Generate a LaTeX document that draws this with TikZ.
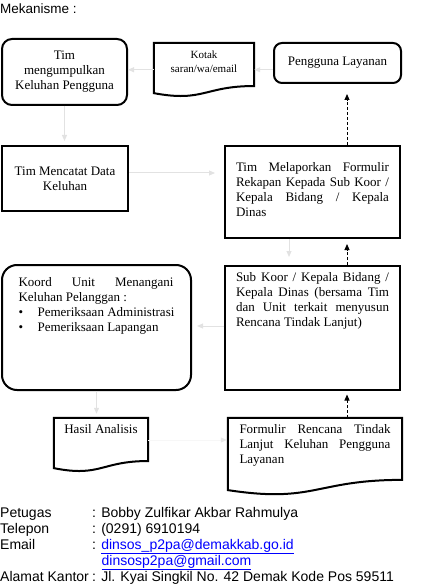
\documentclass[tikz,border=0pt]{standalone}
\usepackage{fontspec}
\setmainfont{Liberation Serif}
\newfontfamily\arialfont{Liberation Sans}
\usepackage{xcolor}
\usetikzlibrary{arrows.meta,calc}
\definecolor{faint}{HTML}{E2E2E2}
\definecolor{link}{HTML}{0000FF}
\tikzset{
  txt/.style={font=\fontsize{13}{15}\selectfont},
  info/.style={font=\arialfont\fontsize{14}{16}\selectfont, anchor=base west, inner sep=0pt},
  shapeLine/.style={draw=black, line width=2pt},
  plainBox/.style={shapeLine, inner sep=0pt, txt},
  roundBox/.style={plainBox, rounded corners=10pt},
  docBox/.style={inner sep=0pt, txt},
  flow/.style={draw=faint, line width=1pt, -{Triangle[width=5pt,length=6pt]}},
  faintFlow/.style={draw=black!3, line width=1pt, -{Triangle[width=5pt,length=6pt,color=black!9]}},
  report/.style={draw=black, line width=1pt, dash pattern=on 3pt off 2pt, -{Triangle[width=5pt,length=6pt]}}
}
% lembar dokumen: sisi bawah bergelombang
\newcommand{\docShape}[1]{%
  \draw[shapeLine] (#1.north west) -- (#1.north east)
    -- ($(#1.north east)!0.802!(#1.south east)$)
    .. controls ($(#1.north)!0.802!(#1.south)$) and ($(#1.north)!1.107!(#1.south)$)
    .. ($(#1.north west)!0.934!(#1.south west)$) -- cycle;}

\begin{document}
\begin{tikzpicture}[x=1pt, y=-1pt]
    \useasboundingbox (0,0) rectangle (420,585);
    \node[info, font=\arialfont\fontsize{13.5}{16}\selectfont] (judul) at (0,13.5) {Mekanisme :};

    % Baris atas
    \node[roundBox, minimum width=125pt, minimum height=66pt, align=center] (kumpul) at (64.5,72) {Tim\\mengumpulkan\\Keluhan Pengguna};
    \node[docBox, minimum width=100pt, minimum height=53.5pt] (kotak) at (204,69.75) {\parbox[c][37pt][t]{90pt}{\centering\fontsize{11}{14}\selectfont Kotak\\saran/wa/email}};
    \docShape{kotak}
    \node[roundBox, rounded corners=8pt, minimum width=127pt, minimum height=40pt] (pengguna) at (337.5,63) {Pengguna Layanan};

    % Baris tengah
    \node[plainBox, minimum width=126pt, minimum height=65pt, align=center] (catat) at (65,178.5) {Tim Mencatat Data\\Keluhan};
    \node[plainBox, minimum width=175pt, minimum height=92pt] (lapor) at (312.5,192) {\parbox[c][60pt][t]{153pt}{Tim Melaporkan Formulir\linebreak Rekapan Kepada Sub Koor /\linebreak Kepala Bidang / Kepala\linebreak Dinas}};

    \node[roundBox, rounded corners=15pt, minimum width=189pt, minimum height=125pt] (tangani) at (96.5,327.5) {\parbox[c][101pt][t]{155pt}{Koord Unit Menangani\linebreak Keluhan Pelanggan :\par
      \hbox{\makebox[19pt][l]{\textbullet}Pemeriksaan Administrasi}
      \hbox{\makebox[19pt][l]{\textbullet}Pemeriksaan Lapangan}}};
    \node[plainBox, minimum width=175pt, minimum height=124pt] (susun) at (312.5,328) {\parbox[c][112pt][t]{153pt}{Sub Koor / Kepala Bidang /\linebreak Kepala Dinas (bersama Tim\linebreak dan Unit terkait menyusun\linebreak Rencana Tindak Lanjut)}};

    % Baris bawah
    \node[docBox, minimum width=94pt, minimum height=53.5pt] (hasil) at (101,444.75) {\parbox[c][41pt][t]{90pt}{\centering Hasil Analisis}};
    \docShape{hasil}
    \node[docBox, minimum width=174pt, minimum height=77pt] (formulir) at (315,456.5) {\parbox[c][65pt][t]{151pt}{Formulir Rencana Tindak\linebreak Lanjut Keluhan Pengguna\linebreak Layanan}};
    \docShape{formulir}

    % Alur
    \draw[flow] (pengguna.west |- kotak.east) -- (kotak.east);
    \draw[flow] (kotak.west) -- (kotak.west -| kumpul.east);
    \draw[flow, shorten >=4pt] (kumpul.south) -- (kumpul.south |- catat.north);
    \coordinate (c1) at ([yshift=5.5pt]catat.east);
    \draw[flow, shorten >=9pt] (c1) -- (c1 -| lapor.west);
    \coordinate (c2) at ([xshift=-23.5pt]lapor.south);
    \draw[flow, shorten >=8pt] (c2) -- (c2 |- susun.north);
    \coordinate (c3) at ([yshift=2pt]susun.west);
    \draw[flow, shorten >=5pt] (c3) -- (c3 -| tangani.east);
    \draw[flow, shorten >=4pt] (tangani.south) -- (tangani.south |- hasil.north);
    \coordinate (c4) at ([yshift=4.75pt]hasil.east);
    \draw[faintFlow, shorten >=1pt] (c4) -- (c4 -| formulir.west);

    % Laporan balik
    \coordinate (d1) at ([xshift=32pt]formulir.north);
    \draw[report, shorten >=3.5pt] (d1) -- (d1 |- susun.south);
    \coordinate (d2) at ([xshift=34.5pt]susun.north);
    \draw[report, shorten >=5pt] (d2) -- (d2 |- lapor.south);
    \coordinate (d3) at ([xshift=34.5pt]lapor.north);
    \draw[report, shorten >=10pt] (d3) -- (d3 |- pengguna.south);

    % Kontak
    \node[info] (petugas) at (0,517) {Petugas};
    \node[info] (petugasIsi) at (92,517) {: Bobby Zulfikar Akbar Rahmulya};
    \node[info] (telepon) at (0,533) {Telepon};
    \node[info] (teleponIsi) at (92,533) {: (0291) 6910194};
    \node[info] (email) at (0,549) {Email};
    \node[info] (emailIsi) at (92,549) {: \textcolor{link}{\underline{dinsos\_p2pa@demakkab.go.id}}};
    \node[info] (emailDua) at (101.5,565) {\textcolor{link}{\underline{dinsosp2pa@gmail.com}}};
    \node[info] (alamat) at (0,581) {Alamat Kantor};
    \node[info] (alamatIsi) at (92,581) {: Jl. Kyai Singkil No. 42 Demak Kode Pos 59511};
\end{tikzpicture}
\end{document}
